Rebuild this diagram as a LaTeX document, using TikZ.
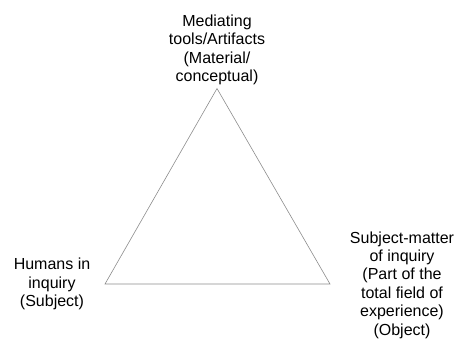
\documentclass[tikz,border=0pt]{standalone}
\usepackage{fontspec}
\setmainfont{Liberation Sans}
\begin{document}
\begin{tikzpicture}[x=1pt,y=-1pt,
  lbl/.style={inner sep=0pt,align=center,font=\fontsize{16}{18.4}\selectfont,anchor=base},
  edge/.style={draw=black!45,line width=0.6pt}]
\useasboundingbox (0,0) rectangle (455,338);
\coordinate (top) at (217,88.5);
\coordinate (bl) at (105,284);
\coordinate (br) at (330,284);
\draw[edge] (top) -- (bl) -- (br) -- cycle;
\node[lbl] (med) at (217,81.7) {Mediating\\tools/Artifacts\\(Material/\\conceptual)};
\node[lbl] (hum) at (52,306.7) {Humans in\\inquiry\\(Subject)};
\node[lbl] (obj) at (402,335) {Subject-matter\\of inquiry\\(Part of the\\total field of\\experience)\\(Object)};
\end{tikzpicture}
\end{document}
